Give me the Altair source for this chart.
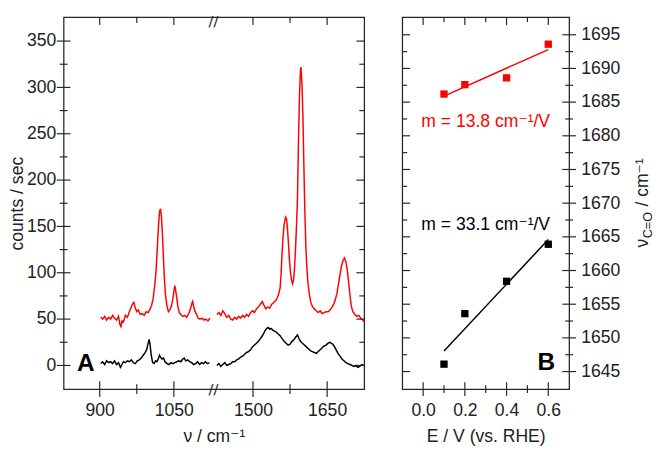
import altair as alt
import pandas as pd

# ---------------- data ----------------
# Raman spectra, low-wavenumber segment (900-1125 cm-1)
red_left_wn = [902, 906, 910, 914, 918, 922, 926, 930, 934, 938, 941, 943, 945, 948, 952, 956, 960, 963, 966, 969,
               972, 975, 978, 982, 986, 990, 994, 998, 1002, 1005, 1008, 1011, 1014, 1017, 1019, 1021, 1023, 1025,
               1027, 1029, 1031, 1033, 1036, 1039, 1042, 1045, 1048, 1050, 1052, 1054, 1056, 1058, 1061, 1064, 1068,
               1072, 1076, 1080, 1083, 1086, 1088, 1090, 1093, 1096, 1099, 1103, 1107, 1111, 1115, 1119, 1123]
red_left_cts = [52, 50, 53, 49, 52, 50, 54, 51, 49, 53, 44, 42, 48, 47, 54, 52, 58, 62, 66, 68,
                62, 58, 60, 55, 56, 54, 58, 57, 61, 65, 72, 85, 102, 132, 152, 166, 169, 160,
                140, 115, 92, 76, 64, 58, 60, 64, 72, 80, 86, 80, 72, 64, 57, 55, 53,
                54, 52, 56, 60, 66, 69, 64, 58, 55, 51, 50, 51, 49, 50, 48, 51]
black_left_wn = [902, 906, 910, 914, 918, 922, 926, 930, 934, 938, 942, 945, 948, 952, 956, 960, 964, 968, 972, 976,
                 980, 984, 988, 992, 995, 998, 1000, 1002, 1004, 1007, 1010, 1013, 1016, 1019, 1021, 1023, 1026,
                 1029, 1032, 1036, 1040, 1044, 1048, 1052, 1056, 1060, 1064, 1068, 1071, 1074, 1078, 1082, 1086,
                 1090, 1094, 1098, 1102, 1106, 1110, 1114, 1118, 1122]
black_left_cts = [2, 4, 1, 5, 3, 4, 2, 5, 1, 3, -2, 1, 4, 3, 5, 4, 6, 3, 2, 5,
                  6, 8, 11, 14, 17, 24, 28, 22, 12, 3, 2, 5, 4, 8, 11, 9, 7,
                  8, 4, 2, 1, 3, 2, 3, 4, 5, 4, 7, 8, 5, 6, 4, 3,
                  1, 2, 4, 1, 3, 2, 4, 2, 3]

# Raman spectra, high-wavenumber segment (1427-1725 cm-1)
red_right_wn = [1427, 1431, 1435, 1439, 1443, 1447, 1451, 1455, 1459, 1463, 1467, 1471, 1475, 1479, 1483, 1487, 1491,
                1495, 1499, 1503, 1507, 1511, 1515, 1519, 1522, 1526, 1530, 1534, 1538, 1542, 1546, 1549, 1552, 1555,
                1557, 1559, 1561, 1563, 1566, 1568, 1570, 1572, 1574, 1576, 1578, 1580, 1582, 1584, 1586, 1588, 1590,
                1592, 1594, 1596, 1597, 1599, 1601, 1603, 1605, 1607, 1609, 1611, 1614, 1617, 1620, 1624, 1628, 1632,
                1636, 1640, 1644, 1648, 1652, 1656, 1660, 1664, 1667, 1670, 1673, 1676, 1679, 1682, 1685, 1688, 1691,
                1693, 1695, 1697, 1699, 1702, 1706, 1710, 1714, 1718, 1722, 1725]
red_right_cts = [55, 57, 54, 59, 56, 52, 54, 50, 49, 52, 50, 53, 51, 54, 52, 55, 53,
                 57, 59, 57, 61, 63, 66, 69, 65, 61, 63, 62, 66, 68, 70, 73, 77, 84,
                 100, 122, 140, 152, 160, 158, 146, 130, 112, 100, 92, 88, 92, 104, 125, 150, 180,
                 240, 290, 318, 322, 305, 270, 215, 165, 128, 105, 90, 77, 68, 64, 61, 59, 57,
                 59, 56, 57, 58, 58, 60, 63, 67, 72, 78, 88, 98, 107, 113, 116, 112, 102,
                 92, 82, 72, 64, 58, 55, 53, 54, 51, 49, 47]
black_right_wn = [1427, 1431, 1435, 1439, 1443, 1447, 1451, 1455, 1459, 1463, 1467, 1471, 1475, 1479, 1483, 1487,
                  1491, 1495, 1499, 1503, 1507, 1511, 1515, 1519, 1522, 1525, 1528, 1531, 1534, 1537, 1540, 1543,
                  1547, 1551, 1555, 1559, 1563, 1567, 1571, 1575, 1579, 1583, 1587, 1590, 1593, 1596, 1600, 1604,
                  1608, 1612, 1616, 1620, 1624, 1628, 1632, 1636, 1640, 1644, 1648, 1652, 1655, 1658, 1661, 1664,
                  1668, 1672, 1676, 1680, 1684, 1688, 1692, 1696, 1700, 1704, 1708, 1712, 1716, 1720, 1724]
black_right_cts = [0, 2, -1, 1, 3, 0, 1, 2, 4, 4, 6, 7, 9, 10, 12, 14,
                   15, 17, 20, 22, 24, 26, 29, 32, 35, 38, 40, 41, 39, 40, 38, 37,
                   36, 34, 32, 29, 26, 24, 22, 23, 26, 28, 31, 33, 29, 26, 24, 22,
                   20, 18, 16, 15, 14, 13, 15, 17, 19, 21, 22, 24, 25, 24, 23, 21,
                   17, 13, 10, 7, 5, 3, 2, 1, 0, -1, 0, -2, -1, 1, 0]

# C=O band position versus electrode potential
E_vs_RHE = [0.1, 0.2, 0.4, 0.6]
nu_CO_red = [1686.2, 1687.6, 1688.6, 1693.6]
nu_CO_black = [1646.1, 1653.6, 1658.4, 1663.9]

# axis ticks
x_major = [900, 1050, 1500, 1650]
x_minor = [975, 1575]
y_major = [0, 50, 100, 150, 200, 250, 300, 350]
y_minor = [25, 75, 125, 175, 225, 275, 325]
e_major = [0.0, 0.2, 0.4, 0.6]
e_minor = [0.1, 0.3, 0.5]
nu_major = [1645, 1650, 1655, 1660, 1665, 1670, 1675, 1680, 1685, 1690, 1695]
nu_minor = [1647.5, 1652.5, 1657.5, 1662.5, 1667.5, 1672.5, 1677.5, 1682.5, 1687.5, 1692.5]

slope_red_label = "m = 13.8 cm⁻¹/V"
slope_black_label = "m = 33.1 cm⁻¹/V"

# ---------------- broken axis ----------------
BREAK_LO, BREAK_HI = 1131, 1421
GAP = BREAK_HI - BREAK_LO


def to_plot(v):
    return v - GAP if v > BREAK_LO else v


rows = []
for series, seg, wn, cts in [("red", "rl", red_left_wn, red_left_cts),
                             ("red", "rr", red_right_wn, red_right_cts),
                             ("black", "bl", black_left_wn, black_left_cts),
                             ("black", "br", black_right_wn, black_right_cts)]:
    for w, c in zip(wn, cts):
        rows.append({"series": series, "seg": seg, "wn": w, "cts": c})
spec = pd.DataFrame(rows)

pts = pd.DataFrame({"E": E_vs_RHE + E_vs_RHE,
                    "nu": nu_CO_red + nu_CO_black,
                    "series": ["red"] * 4 + ["black"] * 4})

# ---------------- styling ----------------
W1, W2, H = 308, 171, 381
AX = "#262626"
FONT = "Liberation Sans, Arial, DejaVu Sans"
RED = "#ff0000"
cscale = alt.Scale(domain=["red", "black"], range=[RED, "#000000"])

x1s = alt.Scale(domain=[827, 1435], nice=False, zero=False)
y1s = alt.Scale(domain=[-25.5, 375.7], nice=False, zero=False)
x2s = alt.Scale(domain=[-0.1, 0.7], nice=False, zero=False)
y2s = alt.Scale(domain=[1642.4, 1697.6], nice=False, zero=False)

xp_major = [to_plot(v) for v in x_major]
xp_minor = [to_plot(v) for v in x_minor]

# one axis definition per channel, shared by every layer of a panel
axA_x = alt.Axis(values=xp_major,
                 labelExpr=f"format(datum.value > {BREAK_LO} ? datum.value + {GAP} : datum.value, 'd')",
                 title="ν / cm⁻¹", ticks=False, domain=False, grid=False,
                 labelPadding=13, titlePadding=9)
axA_y = alt.Axis(values=y_major, title="counts / sec", ticks=False, domain=False,
                 grid=False, labelPadding=8, titlePadding=0)
axB_x = alt.Axis(values=e_major, format=".1f", title="E / V (vs. RHE)", ticks=False,
                 domain=False, grid=False, labelPadding=13, titlePadding=9)
axB_y = alt.Axis(orient="right", values=nu_major, format="d", title=None, ticks=False, domain=False,
                 grid=False, labelPadding=12)


def hticks(vals, scale, axis, x1, x2):
    return alt.Chart(pd.DataFrame({"v": vals})).mark_rule(color=AX, strokeWidth=1.2).encode(
        y=alt.Y("v:Q", scale=scale, axis=axis), x=alt.value(x1), x2=alt.value(x2))


def vticks(vals, scale, axis, y1, y2):
    return alt.Chart(pd.DataFrame({"v": vals})).mark_rule(color=AX, strokeWidth=1.2).encode(
        x=alt.X("v:Q", scale=scale, axis=axis), y=alt.value(y1), y2=alt.value(y2))


# ---------------- panel A ----------------
lines = alt.Chart(spec).transform_calculate(
    xp=f"datum.wn > {BREAK_LO} ? datum.wn - {GAP} : datum.wn"
).mark_line(strokeWidth=1.5).encode(
    x=alt.X("xp:Q", scale=x1s, axis=axA_x),
    y=alt.Y("cts:Q", scale=y1s, axis=axA_y),
    color=alt.Color("series:N", scale=cscale, legend=None),
    detail="seg:N",
)

brk = pd.DataFrame({"xp": [BREAK_LO - 1], "t": ["//"]})
break_top = alt.Chart(brk).mark_text(fontSize=15, font="DejaVu Sans", color=AX, baseline="middle").encode(
    x=alt.X("xp:Q", scale=x1s, axis=axA_x), y=alt.value(4), text="t:N")
break_bot = alt.Chart(brk).mark_text(fontSize=15, font="DejaVu Sans", color=AX, baseline="middle").encode(
    x=alt.X("xp:Q", scale=x1s, axis=axA_x), y=alt.value(H), text="t:N")

label_A = alt.Chart(pd.DataFrame({"xp": [872], "cts": [2], "t": ["A"]})).mark_text(
    fontSize=25, fontWeight="bold", font=FONT, color="black", baseline="middle").encode(
    x=alt.X("xp:Q", scale=x1s, axis=axA_x), y=alt.Y("cts:Q", scale=y1s, axis=axA_y), text="t:N")

panelA = alt.layer(
    lines,
    hticks(y_major, y1s, axA_y, -7, 7), hticks(y_minor, y1s, axA_y, -4, 4),
    hticks(y_major, y1s, axA_y, W1 - 8, W1), hticks(y_minor, y1s, axA_y, W1 - 5, W1),
    vticks(xp_major, x1s, axA_x, H - 8, H + 8), vticks(xp_minor, x1s, axA_x, H - 5, H + 5),
    vticks(xp_major, x1s, axA_x, 0, 8), vticks(xp_minor, x1s, axA_x, 0, 6),
    break_top, break_bot, label_A,
).properties(width=W1, height=H)

# ---------------- panel B ----------------
points = alt.Chart(pts).mark_point(shape="square", filled=True, size=56, opacity=1).encode(
    x=alt.X("E:Q", scale=x2s, axis=axB_x),
    y=alt.Y("nu:Q", scale=y2s, axis=axB_y),
    color=alt.Color("series:N", scale=cscale, legend=None),
)
fit = alt.Chart(pts).transform_regression("E", "nu", groupby=["series"]).mark_line(strokeWidth=1.5).encode(
    x=alt.X("E:Q", scale=x2s, axis=axB_x),
    y=alt.Y("nu:Q", scale=y2s, axis=axB_y),
    color=alt.Color("series:N", scale=cscale, legend=None),
)
ann = pd.DataFrame({"E": [0.3, 0.3], "nu": [1682.1, 1666.7],
                    "t": [slope_red_label, slope_black_label], "series": ["red", "black"]})
slopes = alt.Chart(ann).mark_text(fontSize=18, font=FONT, baseline="middle").encode(
    x=alt.X("E:Q", scale=x2s, axis=axB_x), y=alt.Y("nu:Q", scale=y2s, axis=axB_y), text="t:N",
    color=alt.Color("series:N", scale=cscale, legend=None))
label_B = alt.Chart(pd.DataFrame({"E": [0.59], "nu": [1646.4], "t": ["B"]})).mark_text(
    fontSize=25, fontWeight="bold", font=FONT, color="black", baseline="middle").encode(
    x=alt.X("E:Q", scale=x2s, axis=axB_x), y=alt.Y("nu:Q", scale=y2s, axis=axB_y), text="t:N")

# right-hand axis title with subscript: nu_C=O / cm^-1, reading bottom to top
TY = 236
title_parts = []
for txt, size, dx, dy in [("ν", 18, 0, 0), ("C=O", 13, 9.5, 5), ("/ cm⁻¹", 18, 42, 0)]:
    title_parts.append(
        alt.Chart(pd.DataFrame({"t": [txt]})).mark_text(
            fontSize=size, font=FONT, color="#222", angle=270, align="left", baseline="middle",
            dx=dx, dy=dy).encode(x=alt.value(W2 + 76), y=alt.value(TY), text="t:N"))

panelB = alt.layer(
    fit, points, slopes, label_B,
    hticks(nu_major, y2s, axB_y, 0, 8), hticks(nu_minor, y2s, axB_y, 0, 5),
    hticks(nu_major, y2s, axB_y, W2 - 7, W2 + 7), hticks(nu_minor, y2s, axB_y, W2 - 4, W2 + 4),
    vticks(e_major, x2s, axB_x, H - 7, H + 7), vticks(e_minor, x2s, axB_x, H - 4, H + 4),
    vticks(e_major, x2s, axB_x, 0, 8), vticks(e_minor, x2s, axB_x, 0, 5),
    *title_parts,
).properties(width=W2, height=H)

chart = alt.hconcat(panelA, panelB, spacing=33).properties(
    padding={"left": 0, "top": 0, "right": 0, "bottom": 0}
).configure_view(stroke=AX, strokeWidth=1.3).configure_axis(
    labelFont=FONT, titleFont=FONT, labelFontSize=18, titleFontSize=18,
    labelColor="#222", titleColor="#222", titleFontWeight="normal")

chart.save("out.html", embed_options={"renderer": "svg", "actions": False})
